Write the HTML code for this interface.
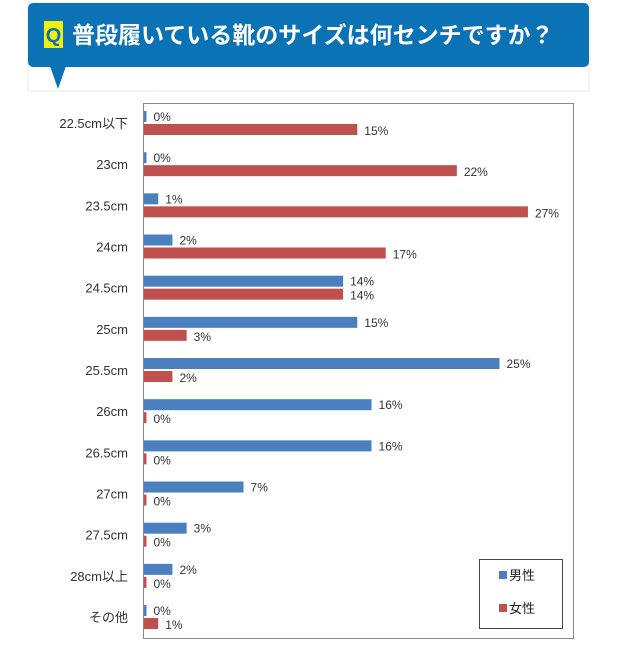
<!DOCTYPE html><html><head><meta charset="utf-8"><style>body{margin:0;background:#fff;width:624px;height:640px;overflow:hidden;font-family:"Liberation Sans","Noto Sans CJK JP",sans-serif}</style></head><body>
<svg width="624" height="640" xmlns="http://www.w3.org/2000/svg" font-family="Liberation Sans, Noto Sans CJK JP, sans-serif">
<rect x="28" y="3" width="561" height="88" fill="#fff" stroke="#e4e8ec"/>
<rect x="28" y="3" width="561" height="64" rx="5" fill="#0a72b5"/>
<polygon points="50,66 66,66 58,89" fill="#0a72b5"/>
<rect x="44" y="21" width="19" height="27" fill="#f2ee10"/>
<text x="53.5" y="42" font-size="20" font-weight="bold" fill="#0a72b5" text-anchor="middle">Q</text>
<text x="72" y="43" font-size="23" font-weight="bold" fill="#fff">普段履いている靴のサイズは何センチですか？</text>
<rect x="143.5" y="103.5" width="430" height="535" fill="none" stroke="#888"/>
<g id="bars" font-size="12" fill="#333"></g>
<rect x="479.5" y="559.5" width="83" height="69" fill="#fff" stroke="#444"/>
<rect x="499" y="571" width="8" height="8" fill="#4a7fc0"/><text x="509" y="580" font-size="13" fill="#222">男性</text>
<rect x="499" y="604" width="8" height="8" fill="#c0504d"/><text x="509" y="613" font-size="13" fill="#222">女性</text>
</svg>
<script>
var cats=["22.5cm以下","23cm","23.5cm","24cm","24.5cm","25cm","25.5cm","26cm","26.5cm","27cm","27.5cm","28cm以上","その他"];
var m=[0,0,1,2,14,15,25,16,16,7,3,2,0],f=[15,22,27,17,14,3,2,0,0,0,0,0,1];
var g=document.getElementById("bars"),s="";
for(var i=0;i<13;i++){var c=123+41.17*i;
s+='<text x="128" y="'+(c+5)+'" font-size="13" text-anchor="end" fill="#333">'+cats[i]+'</text>';
var wm=Math.max(m[i]*14.22,2.5),wf=Math.max(f[i]*14.22,2.5);
s+='<rect x="144" y="'+(c-12)+'" width="'+wm+'" height="11" fill="#4a7fc0"/>';
s+='<rect x="144" y="'+(c+1)+'" width="'+wf+'" height="11" fill="#c0504d"/>';
s+='<text x="'+(144+wm+7)+'" y="'+(c-2)+'" font-size="12">'+m[i]+'%</text>';
s+='<text x="'+(144+wf+7)+'" y="'+(c+12)+'" font-size="12">'+f[i]+'%</text>';}
g.innerHTML=s;
</script></body></html>
